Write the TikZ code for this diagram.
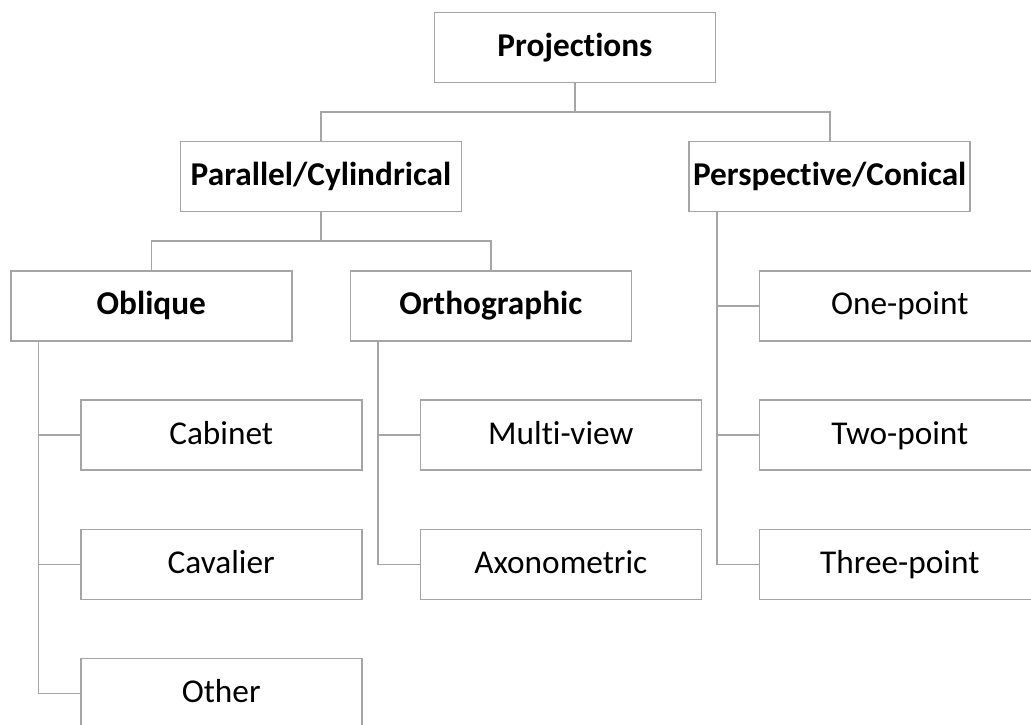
\documentclass[tikz,border=0pt]{standalone}
\usepackage{fontspec}
\setmainfont{Carlito}[Ligatures=NoCommon]
\definecolor{linegray}{RGB}{165,165,165}
\begin{document}
\begin{tikzpicture}[x=1pt,y=-1pt,
  box/.style={draw=linegray, line width=1.6pt, fill=white, rectangle, minimum width=281pt,
              minimum height=70pt, inner sep=0pt, text height=22pt, text depth=3.5pt,
              font=\fontsize{33.3}{38}\selectfont},
  head/.style={box, font=\fontsize{33.3}{38}\selectfont\bfseries},
  link/.style={draw=linegray, line width=1.6pt}
]
\clip (0,0) rectangle (1031,725);
\fill[white] (0,0) rectangle (1031,725);

% hierarchy boxes
\node[head] (proj) at (575,47.5) {Projections};
\node[head] (par)  at (321,176.3) {Parallel/Cylindrical};
\node[head] (per)  at (829.7,176.3) {Perspective/Conical};
\node[head] (obl)  at (151.3,305.7) {Oblique};
\node[head] (ort)  at (490.8,305.7) {Orthographic};

% leaf boxes
\node[box] (cab)   at (221.2,435)   {Cabinet};
\node[box] (cav)   at (221.2,564.3) {Cavalier};
\node[box] (oth)   at (221.2,693.3) {Other};
\node[box] (mv)    at (560.8,435)   {Multi-view};
\node[box] (axo)   at (560.8,564.3) {Axonometric};
\node[box] (one)   at (899.8,305.7) {One-point};
\node[box] (two)   at (899.8,435)   {Two-point};
\node[box] (three) at (899.8,564.3) {Three-point};

% top-level split
\coordinate (j1) at (575,112);
\draw[link] (proj.south) -- (j1);
\draw[link] (par.north) |- (j1) -| (per.north);

% parallel split
\coordinate (j2) at (321,241);
\draw[link] (par.south) -- (j2);
\draw[link] (obl.north) |- (j2) -| (ort.north);

% side trunks with branches
\coordinate (t1) at ([xshift=28.3pt]obl.south west);
\draw[link] (t1) |- (oth.west);
\draw[link] (t1 |- cab.west) -- (cab.west);
\draw[link] (t1 |- cav.west) -- (cav.west);

\coordinate (t2) at ([xshift=28.3pt]ort.south west);
\draw[link] (t2) |- (axo.west);
\draw[link] (t2 |- mv.west) -- (mv.west);

\coordinate (t3) at ([xshift=28.3pt]per.south west);
\draw[link] (t3) |- (three.west);
\draw[link] (t3 |- one.west) -- (one.west);
\draw[link] (t3 |- two.west) -- (two.west);
\end{tikzpicture}
\end{document}
